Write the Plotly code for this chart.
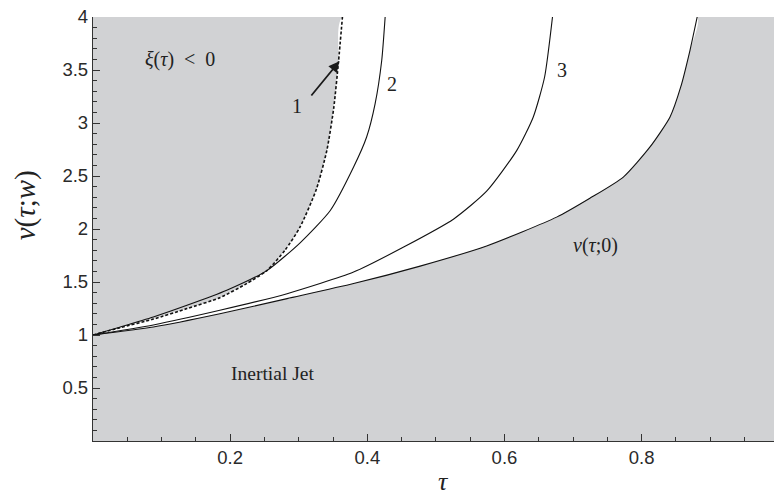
import plotly.graph_objects as go

# Boundary xi(tau) = 0 (curve 1, dashed)
tau_1 = [0, 0.040, 0.088, 0.137, 0.185, 0.224, 0.254, 0.280, 0.302, 0.326, 0.341, 0.351, 0.358, 0.3637]
v_1 = [1.0, 1.070, 1.150, 1.249, 1.352, 1.485, 1.610, 1.800, 2.019, 2.380, 2.742, 3.140, 3.580, 4.0]

# Curve 2
tau_2 = [0, 0.040, 0.088, 0.137, 0.195, 0.254, 0.302, 0.346, 0.380, 0.399, 0.4114, 0.421, 0.426]
v_2 = [1.0, 1.076, 1.170, 1.280, 1.422, 1.610, 1.870, 2.175, 2.585, 2.868, 3.183, 3.590, 4.0]

# Curve 3
tau_3 = [0, 0.088, 0.185, 0.283, 0.380, 0.453, 0.526, 0.574, 0.618, 0.642, 0.6585, 0.670]
v_3 = [1.0, 1.095, 1.233, 1.390, 1.594, 1.830, 2.095, 2.357, 2.742, 3.057, 3.434, 4.0]

# Lower boundary v(tau; 0)
tau_0 = [0, 0.088, 0.185, 0.283, 0.380, 0.477, 0.574, 0.676, 0.7245, 0.7733, 0.8122, 0.8414, 0.857, 0.8705, 0.881]
v_0 = [1.0, 1.075, 1.200, 1.343, 1.485, 1.650, 1.840, 2.112, 2.290, 2.490, 2.774, 3.057, 3.340, 3.686, 4.0]

x_ticks = [0.2, 0.4, 0.6, 0.8]
x_ticktext = ["0.2", "0.4", "0.6", "0.8"]
y_ticks = [0.5, 1, 1.5, 2, 2.5, 3, 3.5, 4]
y_ticktext = ["0.5", "1", "1.5", "2", "2.5", "3", "3.5", "4"]

GRAY = "#d1d2d4"
INK = "#222222"
SERIF = "Liberation Serif, Times New Roman, serif"
SANS = "Liberation Sans, Arial, sans-serif"
SMOOTH = 0.6

fig = go.Figure()

# admissible (white) region between xi = 0 and v(tau;0)
fig.add_trace(go.Scatter(
    x=tau_1 + tau_0[::-1], y=v_1 + v_0[::-1],
    fill="toself", fillcolor="white", mode="lines",
    line=dict(width=0, shape="spline", smoothing=SMOOTH),
    hoverinfo="skip", showlegend=False,
))

for tx, vy in [(tau_2, v_2), (tau_3, v_3), (tau_0, v_0)]:
    fig.add_trace(go.Scatter(
        x=tx, y=vy, mode="lines",
        line=dict(color="#111111", width=1.1, shape="spline", smoothing=SMOOTH),
        showlegend=False,
    ))

fig.add_trace(go.Scatter(
    x=tau_1, y=v_1, mode="lines",
    line=dict(color="#111111", width=1.6, dash="3px,2px",
              shape="spline", smoothing=SMOOTH),
    showlegend=False,
))

axis_common = dict(
    showline=True, linecolor="#333333", linewidth=1.3, mirror=False,
    ticks="inside", ticklen=7, tickwidth=1.2, tickcolor="#333333",
    showgrid=False, zeroline=False,
    tickfont=dict(family=SANS, size=18.5, color="#2a2a2a"),
)

fig.update_layout(
    width=774, height=500,
    margin=dict(l=93, r=0, t=16.7, b=59.3),
    paper_bgcolor="white", plot_bgcolor=GRAY,
    xaxis=dict(range=[0, 0.993], tickvals=x_ticks, ticktext=x_ticktext,
               minor=dict(dtick=0.05, tick0=0, ticks="inside", ticklen=4,
                          tickcolor="#333333", tickwidth=1),
               **axis_common),
    yaxis=dict(range=[0, 4], tickvals=y_ticks, ticktext=y_ticktext,
               minor=dict(dtick=0.1, tick0=0, ticks="inside", ticklen=4,
                          tickcolor="#333333", tickwidth=1),
               **axis_common),
    showlegend=False,
)

labels = [
    (0.127, 3.60, "<i>ξ</i>(<i>τ</i>)  &lt;  0", 20),
    (0.2977, 3.16, "1", 20),
    (0.436, 3.37, "2", 20),
    (0.684, 3.50, "3", 20),
    (0.732, 1.84, "<i>v</i>(<i>τ</i>;0)", 20),
    (0.2615, 0.64, "Inertial Jet", 19.5),
]
for lx, ly, txt, fs in labels:
    fig.add_annotation(x=lx, y=ly, xref="x", yref="y", text=txt,
                       showarrow=False, font=dict(family=SERIF, size=fs, color=INK))

# arrow pointing at curve 1
fig.add_annotation(x=0.3593, y=3.582, ax=0.3166, ay=3.245,
                   xref="x", yref="y", axref="x", ayref="y",
                   text="", showarrow=True, arrowhead=2, arrowsize=1.2,
                   arrowwidth=1.8, arrowcolor="#1a1a1a", standoff=0)

# axis titles
fig.add_annotation(x=0, y=0.556, xref="paper", yref="paper", xshift=-68,
                   text="<i>v</i>(<i>τ</i>;<i>w</i>)", textangle=-90,
                   showarrow=False, xanchor="center", yanchor="middle",
                   font=dict(family=SERIF, size=29, color=INK))
fig.add_annotation(x=0.514, y=0, xref="paper", yref="paper", yshift=-40,
                   text="<i>τ</i>", showarrow=False,
                   xanchor="center", yanchor="middle",
                   font=dict(family=SERIF, size=26, color=INK))

fig.write_html("out.html")
